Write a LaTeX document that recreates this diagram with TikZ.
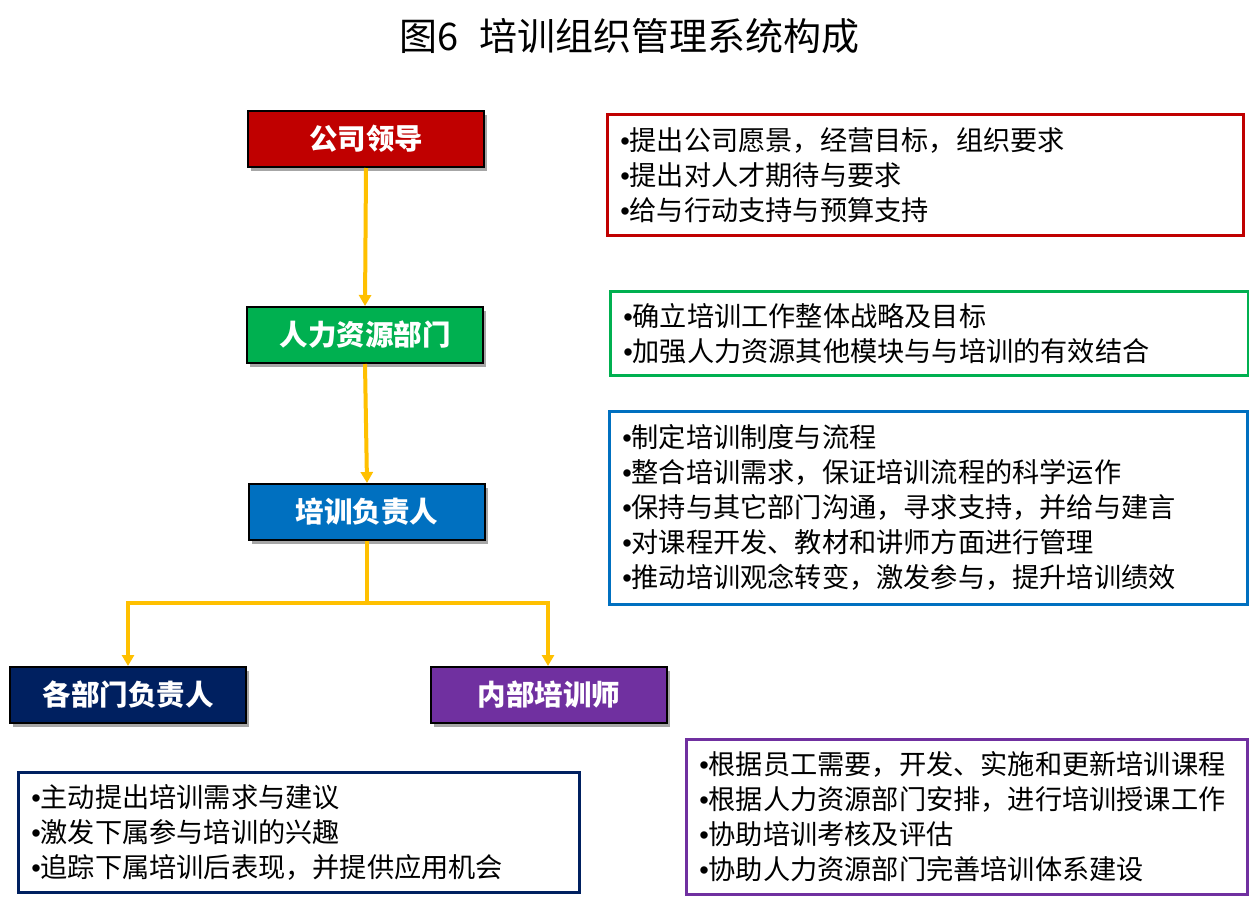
\documentclass[tikz,border=0pt]{standalone}
\usepackage{fontspec}
\setmainfont{Noto Sans CJK SC}
\newfontfamily\bulfont{Liberation Sans}
\newcommand{\bul}{{\bulfont •}}
\usetikzlibrary{shadows,arrows.meta}
\definecolor{cred}{HTML}{C00000}
\definecolor{cgreen}{HTML}{00B050}
\definecolor{cblue}{HTML}{0070C0}
\definecolor{cnavy}{HTML}{002060}
\definecolor{cpurple}{HTML}{7030A0}
\definecolor{cgold}{HTML}{FFC000}
\begin{document}
\begin{tikzpicture}[x=1pt,y=-1pt,
  rolebox/.style={draw=black,line width=2pt,text=white,font=\bfseries\fontsize{28.5}{30}\selectfont,
    minimum width=236pt,minimum height=56pt,inner sep=0pt,
    drop shadow={shadow xshift=3pt,shadow yshift=-4pt,opacity=0.35,fill=black}},
  infobox/.style={draw=#1,line width=2.5pt,fill=white,align=left,anchor=north west,
    font=\fontsize{27.2}{35}\selectfont,inner xsep=11pt,inner ysep=0pt},
  conn/.style={draw=cgold,line width=4pt,-{Triangle[length=11pt,width=12pt]}},
  connline/.style={draw=cgold,line width=4pt}]
\useasboundingbox (0,0) rectangle (1249,902);
\fill[white] (0,0) rectangle (1249,902);
\node[font=\fontsize{38}{42}\selectfont] (title) at (629,36) {图6\hspace{0.55em}培训组织管理系统构成};
% role boxes
\node[rolebox,fill=cred] (lead) at (366,139) {公司领导};
\node[rolebox,fill=cgreen] (hr) at (365,335) {人力资源部门};
\node[rolebox,fill=cblue] (mgr) at (367,512) {培训负责人};
\node[rolebox,fill=cnavy] (dept) at (128,695) {各部门负责人};
\node[rolebox,fill=cpurple] (trainer) at (549,695) {内部培训师};
% info boxes
\node[infobox=cred,minimum width=636pt,minimum height=121pt,text width=610pt] (t1) at (606,113)
  {\bul 提出公司愿景，经营目标，组织要求\\\bul 提出对人才期待与要求\\\bul 给与行动支持与预算支持};
\node[infobox=cgreen,minimum width=638pt,minimum height=84pt,text width=612pt] (t2) at (609,290)
  {\bul 确立培训工作整体战略及目标\\\bul 加强人力资源其他模块与与培训的有效结合};
\node[infobox=cblue,minimum width=638pt,minimum height=193pt,text width=612pt] (t3) at (608,410)
  {\bul 制定培训制度与流程\\\bul 整合培训需求，保证培训流程的科学运作\\\bul 保持与其它部门沟通，寻求支持，并给与建言\\\bul 对课程开发、教材和讲师方面进行管理\\\bul 推动培训观念转变，激发参与，提升培训绩效};
\node[infobox=cnavy,minimum width=561pt,minimum height=120pt,text width=535pt] (t4) at (17,771)
  {\bul 主动提出培训需求与建议\\\bul 激发下属参与培训的兴趣\\\bul 追踪下属培训后表现，并提供应用机会};
\node[infobox=cpurple,minimum width=561pt,minimum height=155pt,text width=535pt] (t5) at (685,738)
  {\bul 根据员工需要，开发、实施和更新培训课程\\\bul 根据人力资源部门安排，进行培训授课工作\\\bul 协助培训考核及评估\\\bul 协助人力资源部门完善培训体系建设};
% connectors
\coordinate (j) at (367,603);
\coordinate (jl) at (128,603);
\coordinate (jr) at (548,603);
\draw[conn] (lead.south) -- (hr.north);
\draw[conn] (hr.south) -- (mgr.north);
\draw[connline] (mgr.south) -- (j);
\draw[connline,line cap=rect] (jl) -- (jr);
\draw[conn] (jl) -- (jl |- dept.north);
\draw[conn] (jr) -- (jr |- trainer.north);
\end{tikzpicture}
\end{document}
